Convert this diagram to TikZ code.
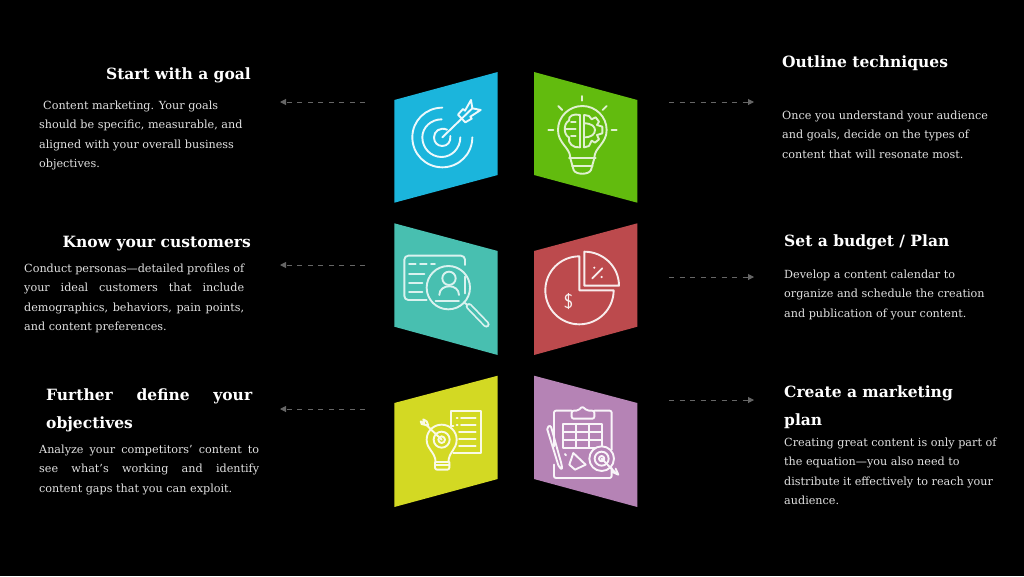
\documentclass[tikz,border=0pt]{standalone}
\usepackage{fontspec}
\setmainfont{DejaVu Serif}
\usetikzlibrary{arrows.meta}
\definecolor{cblue}{HTML}{1BB5DC}
\definecolor{cgreen}{HTML}{62BB0E}
\definecolor{cteal}{HTML}{48BFB0}
\definecolor{cred}{HTML}{BC4A4D}
\definecolor{cyellow}{HTML}{D3D923}
\definecolor{cpurple}{HTML}{B583B5}
\definecolor{bodytxt}{HTML}{E2E2E2}
\newcommand{\jl}[2]{\makebox[#1pt][s]{#2}\\}
\tikzset{
  titletxt/.style={inner sep=0,anchor=base west,text=white,font=\fontsize{15.5}{28}\selectfont\bfseries,align=left},
  bodybox/.style={inner sep=0,anchor=north west,text=bodytxt,font=\fontsize{11.2}{19.25}\selectfont,align=left},
  flow/.style={draw=white!40!black,line width=1pt,dash pattern=on 5pt off 5.5pt,-{Triangle[length=6pt,width=6pt,fill=white!40!black,sep=0pt]}},
  ico/.style={line width=1.9pt,line cap=round,line join=round}
}
\begin{document}
\begin{tikzpicture}[x=1pt,y=-1pt]
\useasboundingbox (0,0) rectangle (1024,576);
\fill[black] (0,0) rectangle (1024,576);

% panels
\fill[cblue]   (394.3,100) -- (497.7,72) -- (497.7,175) -- (394.3,202.7) -- cycle;
\fill[cgreen]  (534,72) -- (637.3,100) -- (637.3,202.7) -- (534,175) -- cycle;
\fill[cteal]   (394.3,223.3) -- (497.7,251) -- (497.7,355) -- (394.3,326.7) -- cycle;
\fill[cred]    (534,251) -- (637.3,223.3) -- (637.3,326.7) -- (534,355) -- cycle;
\fill[cyellow] (394.3,403) -- (497.7,375.7) -- (497.7,479) -- (394.3,507) -- cycle;
\fill[cpurple] (534,375.7) -- (637.3,403) -- (637.3,507) -- (534,479) -- cycle;

% arrows
\coordinate (a1s) at (365,102); \coordinate (a1e) at (280,102);
\coordinate (a2s) at (365,265); \coordinate (a2e) at (280,265);
\coordinate (a3s) at (365,409); \coordinate (a3e) at (280,409);
\coordinate (b1s) at (669,102); \coordinate (b1e) at (754,102);
\coordinate (b2s) at (669,277); \coordinate (b2e) at (754,277);
\coordinate (b3s) at (669,400); \coordinate (b3e) at (754,400);
\draw[flow] (a1s) -- (a1e);
\draw[flow] (a2s) -- (a2e);
\draw[flow] (a3s) -- (a3e);
\draw[flow] (b1s) -- (b1e);
\draw[flow] (b2s) -- (b2e);
\draw[flow] (b3s) -- (b3e);

% icon: target
\begin{scope}[shift={(385,60)},x=0.3333pt,y=-0.3333pt]
\begin{scope}[ico,draw=white!92!cblue]
\draw (172,143) .. controls (122,143) and (82,182) .. (82,232) .. controls (82,282) and (122,322) .. (172,322) .. controls (222,322) and (262,282) .. (262,232);
\draw (170,178) .. controls (138,178) and (112,202) .. (112,232) .. controls (112,265) and (138,291) .. (170,291) .. controls (200,291) and (226,265) .. (226,232);
\draw (186,209) .. controls (165,200) and (147,214) .. (147,232) .. controls (147,248) and (158,258) .. (172,258) .. controls (188,258) and (198,245) .. (196,228);
\draw (172,232) -- (232,174);
\draw (219,164) -- (234,147) -- (240,152) -- (258,120) -- (262,145) -- (287,150) -- (256,170) -- (260,176) -- (241,187) -- cycle;
\draw (232,174) -- (262,145);
\end{scope}
% icon: bulb + brain + gear
\begin{scope}[ico,draw=white!80!cgreen]
\draw (592,108) -- (592,122);
\draw (520,138) -- (532,150);
\draw (665,138) -- (653,150);
\draw (490,210) -- (505,210);
\draw (680,210) -- (695,210);
\draw (556,292) .. controls (554,262) and (519,250) .. (519,210) .. controls (519,170) and (552,138) .. (592,138) .. controls (632,138) and (665,170) .. (665,210) .. controls (665,250) and (630,262) .. (628,292);
\draw (552,295) -- (632,295);
\draw (556,295) -- (566,330) .. controls (572,345) and (612,345) .. (618,330) -- (628,295);
\draw (561,318) -- (623,318);
\draw (585,165) -- (585,262);
\draw (598,165) -- (598,262);
\draw (585,165) .. controls (565,160) and (550,168) .. (552,182) .. controls (535,190) and (535,225) .. (552,232) .. controls (548,250) and (565,265) .. (585,262);
\draw (540,207) -- (572,207);
\draw (558,185) -- (572,185);
\draw (558,228) -- (572,228);
\draw (598,165) -- (612,168) -- (620,178) -- (632,172) -- (642,185) -- (636,195) -- (652,200) -- (652,220) -- (636,225) -- (642,238) -- (630,248) -- (620,242) -- (612,258) -- (598,262);
\draw (598,190) .. controls (620,190) and (630,200) .. (630,210) .. controls (630,222) and (620,232) .. (598,232);
\end{scope}
\end{scope}

% icons: middle row
\begin{scope}[shift={(385,215)},x=0.3333pt,y=-0.3333pt]
\begin{scope}[ico,draw=white!80!cteal]
\draw[rounded corners=4pt] (125,255) -- (58,255) -- (58,122) -- (240,122) -- (240,150);
\draw (72,148) -- (92,148) (105,148) -- (125,148) (138,148) -- (150,148);
\draw (72,176) -- (118,176);
\draw (72,204) -- (112,204);
\draw (72,230) -- (112,230);
\draw (190,218) circle[radius=65];
\draw (192,190) circle[radius=20];
\draw (163,240) .. controls (163,205) and (222,205) .. (222,240);
\draw (152,258) -- (222,258);
\draw (240,185) -- (240,235);
\draw (237,262) -- (250,272);
\draw[line width=6.5pt] (252,274) -- (304,328);
\draw[line width=3pt,cteal] (252,274) -- (304,328);
\end{scope}
\begin{scope}[ico,draw=white!90!cred]
\draw (583,124) .. controls (526,124) and (481,170) .. (481,226) .. controls (481,282) and (526,328) .. (583,328) .. controls (640,328) and (686,282) .. (686,226) -- (583,226) -- cycle;
\draw (598,110) .. controls (655,110) and (702,155) .. (702,212) -- (598,212) -- cycle;
\draw (622,190) -- (652,160);
\fill[white!90!cred] (628,158) circle[radius=3.5] (650,186) circle[radius=3.5];
\node[inner sep=0,text=white!90!cred,font=\fontsize{20}{20}\selectfont\sffamily] (dollar) at (551,261) {\$};
\end{scope}
\end{scope}

% icons: bottom row
\begin{scope}[shift={(385,368)},x=0.3333pt,y=-0.3333pt]
\begin{scope}[ico,draw=white!88!cyellow]
\draw (205,175) -- (197,175) -- (197,130) -- (287,130) -- (287,255) -- (205,255);
\draw (215,150) -- (218,150) (228,150) -- (272,150);
\draw (215,172) -- (218,172) (228,172) -- (272,172);
\draw (222,192) -- (272,192);
\draw (222,212) -- (272,212);
\draw (222,234) -- (272,234);
\draw[fill=cyellow] (152,282) .. controls (150,250) and (125,245) .. (125,215) .. controls (125,190) and (145,170) .. (170,170) .. controls (195,170) and (215,190) .. (215,215) .. controls (215,245) and (192,250) .. (190,282) -- cycle;
\draw[rounded corners=2pt] (150,282) -- (150,305) -- (193,305) -- (193,282);
\draw (150,292) -- (193,292);
\draw (170,215) circle[radius=10];
\draw (170,215) circle[radius=24];
\draw (170,215) -- (125,172);
\draw (125,172) -- (110,168) -- (107,160) -- (118,166) -- (115,154) -- (125,160) -- (130,172);
\end{scope}
\begin{scope}[ico,draw=white!92!cpurple]
\draw[rounded corners=2pt] (560,128) -- (507,128) -- (507,235);
\draw[rounded corners=2pt] (628,128) -- (680,128) -- (680,245);
\draw[rounded corners=2pt] (507,290) -- (507,330) -- (680,330) -- (680,300);
\draw[rounded corners=2pt] (560,152) -- (560,128) -- (580,128) -- (592,115) -- (606,128) -- (628,128) -- (628,152) -- cycle;
\draw (535,168) rectangle (650,240);
\draw (535,192) -- (650,192) (535,216) -- (650,216);
\draw (574,168) -- (574,240) (612,168) -- (612,240);
\draw[rounded corners=2pt] (485,178) -- (497,172) -- (530,290) -- (532,305) -- (522,298) -- cycle;
\draw (540,258) -- (543,262);
\draw (565,255) -- (602,290) -- (570,305) -- (553,290) -- cycle;
\draw[fill=cpurple] (650,272) circle[radius=37];
\draw (650,272) circle[radius=21];
\draw (650,272) circle[radius=8];
\draw (650,272) -- (692,315);
\draw (682,312) -- (700,320) -- (692,302);
\end{scope}
\end{scope}

% titles
\node[titletxt,anchor=base east] (t1) at (251,79) {Start with a goal};
\node[titletxt,anchor=base east] (t2) at (251,247) {Know your customers};
\node[titletxt] (t3) at (46,428) {\makebox[206pt][s]{Further define your}\\objectives};
\node[titletxt] (t4) at (782,67) {Outline techniques};
\node[titletxt] (t5) at (784,246.5) {Set a budget / Plan};
\node[titletxt] (t6) at (784,425) {Create a marketing\\plan};

% bodies
\node[bodybox] (p1) at (39,101) {\hspace*{4pt}Content marketing. Your goals\\should be specific, measurable, and\\aligned with your overall business\\objectives.};
\node[bodybox] (p2) at (24,264) {\jl{220}{Conduct personas—detailed profiles of}\jl{220}{your ideal customers that include}\jl{220}{demographics, behaviors, pain points,}and content preferences.};
\node[bodybox] (p3) at (39,445) {\jl{220}{Analyze your competitors’ content to}\jl{220}{see what’s working and identify}content gaps that you can exploit.};
\node[bodybox] (p4) at (782,111) {Once you understand your audience\\and goals, decide on the types of\\content that will resonate most.};
\node[bodybox] (p5) at (784,270) {Develop a content calendar to\\organize and schedule the creation\\and publication of your content.};
\node[bodybox] (p6) at (784,438) {Creating great content is only part of\\the equation—you also need to\\distribute it effectively to reach your\\audience.};
\end{tikzpicture}
\end{document}
